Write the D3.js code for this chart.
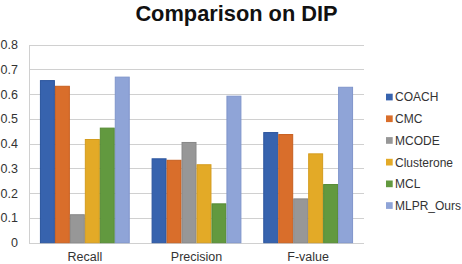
<!DOCTYPE html>
<html><head><meta charset="utf-8">
<script src="https://cdn.jsdelivr.net/npm/d3@7"></script>
<style>body{margin:0;background:#fff;}svg{display:block;font-family:"Liberation Sans",Arial,sans-serif;}</style>
</head><body><svg id="c" width="462" height="264"></svg>
<script>
const categories = ["Recall", "Precision", "F-value"];
const methods = ["COACH", "CMC", "MCODE", "Clusterone", "MCL", "MLPR_Ours"];
const COACH = [0.657, 0.341, 0.447];
const CMC = [0.634, 0.335, 0.439];
const MCODE = [0.115, 0.407, 0.179];
const Clusterone = [0.419, 0.317, 0.361];
const MCL = [0.465, 0.159, 0.237];
const MLPR_Ours = [0.671, 0.594, 0.630];
const yTicks = [0, 0.1, 0.2, 0.3, 0.4, 0.5, 0.6, 0.7, 0.8];
const colors = ["#3763AE", "#D96E2B", "#979797", "#E3AA27", "#62993F", "#8FA4D7"];
const strokes = ["#2B559E", "#C85F1E", "#888888", "#D49C1E", "#558A34", "#7F95CB"];

const series = [COACH, CMC, MCODE, Clusterone, MCL, MLPR_Ours];
const svg = d3.select("#c");
const pLeft = 29, pRight = 364, pTop = 44.7, pBottom = 242.7;

const x = d3.scaleBand().domain(categories).range([pLeft, pRight]).paddingInner(0).paddingOuter(0);
const xi = d3.scaleBand().domain(methods).range([0, x.bandwidth()]).paddingInner(0).paddingOuter(0.73);
const y = d3.scaleLinear().domain([0, 0.8]).range([pBottom, pTop]);

// gridlines
svg.append("g").selectAll("line").data(yTicks).join("line")
  .attr("x1", pLeft).attr("x2", pRight)
  .attr("y1", d => Math.round(y(d)) + 0.5).attr("y2", d => Math.round(y(d)) + 0.5)
  .attr("stroke", "#d0d0d0").attr("stroke-width", 1);
svg.append("line").attr("x1", pLeft + 0.5).attr("x2", pLeft + 0.5).attr("y1", Math.round(y(0.8))).attr("y2", Math.round(y(0)) + 1)
  .attr("stroke", "#d0d0d0");

// y axis labels
const yAxis = d3.axisLeft(y).tickValues(yTicks).tickFormat(d => d === 0 ? "0" : d3.format(".1f")(d)).tickSize(0).tickPadding(0);
const ya = svg.append("g").attr("transform", `translate(18,0)`).call(yAxis);
ya.select(".domain").remove();
ya.selectAll("text").attr("font-size", 12.5).attr("fill", "#333").attr("font-family", '"Liberation Sans",Arial,sans-serif');

// x axis labels
const xAxis = d3.axisBottom(x).tickSize(0).tickPadding(0);
const xa = svg.append("g").attr("transform", `translate(0,0)`).call(xAxis);
xa.select(".domain").remove();
xa.selectAll("text").attr("y", 261).attr("dy", null).attr("font-size", 12.5).attr("fill", "#333").attr("font-family", '"Liberation Sans",Arial,sans-serif');

// bars
methods.forEach((m, i) => {
  svg.append("g").selectAll("rect").data(series[i]).join("rect")
    .attr("x", (d, j) => x(categories[j]) + xi(m) + 0.5)
    .attr("width", xi.bandwidth() - 1)
    .attr("y", d => y(d) + 0.5)
    .attr("height", d => y(0) - y(d) - 0.5)
    .attr("fill", colors[i]).attr("stroke", strokes[i]).attr("stroke-width", 1);
});

// legend
const lg = svg.append("g");
methods.forEach((m, i) => {
  const yy = 97 + i * 21.7;
  lg.append("rect").attr("x", 386).attr("y", yy - 3.3).attr("width", 6.7).attr("height", 6.7).attr("fill", colors[i]);
  lg.append("text").attr("x", 395).attr("y", yy + 4.4).attr("font-size", 12).attr("fill", "#333").text(m);
});

// title
svg.append("text").attr("x", 236.5).attr("y", 20.5).attr("text-anchor", "middle")
  .attr("font-size", 21.8).attr("font-weight", "bold").attr("fill", "#111").text("Comparison on DIP");
</script>
</body></html>
